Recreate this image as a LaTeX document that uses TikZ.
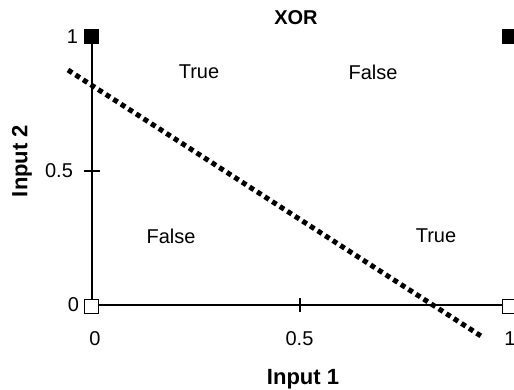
\documentclass[tikz,border=0pt]{standalone}
\usepackage{fontspec}
\setmainfont{Liberation Sans}
\begin{document}
\begin{tikzpicture}[x=1pt,y=-1pt,
  lbl/.style={font=\fontsize{20}{22}\selectfont, inner sep=0pt},
  blbl/.style={font=\bfseries\fontsize{22}{24}\selectfont, inner sep=0pt},
  axisline/.style={line width=1.3pt},
  mk/.style={draw=black, line width=1pt, minimum size=14pt, inner sep=0pt, rectangle},
  filledmk/.style={mk, fill=black},
  openmk/.style={mk, fill=white},
  sep/.style={line width=5pt, dash pattern=on 5pt off 4pt, black}]
\useasboundingbox (0,0) rectangle (514,389);
\coordinate (o) at (92,305);
\coordinate (xe) at (508,305);
\coordinate (ye) at (92,37);
\draw[axisline] (xe) -- (o) -- (ye);
% ticks
\coordinate (xt) at (300,305);
\coordinate (yt) at (92,171);
\draw[axisline] ([yshift=-7]xt) -- ([yshift=7]xt);
\draw[axisline] ([xshift=-8]yt) -- ([xshift=8]yt);
% separating line
\coordinate (s1) at (68,70);
\coordinate (s2) at (481,336);
\draw[sep] (s1) -- (s2);
% markers
\node[filledmk] (m01) at (91,36) {};
\node[filledmk] (m11) at (509,36) {};
\node[openmk] (m00) at (91.5,306) {};
\node[openmk] (m10) at (509,306) {};
% tick labels
\node[lbl] (y1) at (72.5,37) {1};
\node[lbl] (y05) at (59,171) {0.5};
\node[lbl] (y0) at (73.5,305) {0};
\node[lbl] (x0) at (95,339) {0};
\node[lbl] (x05) at (299.5,339) {0.5};
\node[lbl] (x1) at (510,339) {1};
% titles
\node[font=\bfseries\fontsize{20}{22}\selectfont, inner sep=0pt] (title) at (296,18) {XOR};
\node[blbl] (xlab) at (303,379) {Input 1};
\node[blbl, rotate=90] (ylab) at (22,161) {Input 2};
% region labels
\node[lbl] (t1) at (199,72) {True};
\node[lbl] (f1) at (373,72) {False};
\node[lbl] (f2) at (171,236) {False};
\node[lbl] (t2) at (436,236) {True};
\end{tikzpicture}
\end{document}
